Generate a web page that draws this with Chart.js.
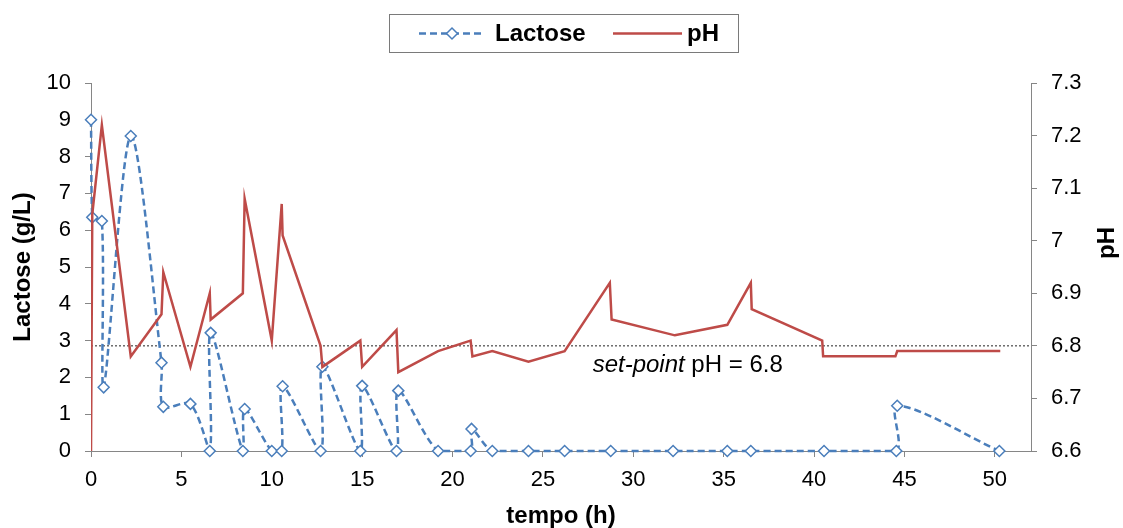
<!DOCTYPE html>
<html><head><meta charset="utf-8">
<script src="https://cdn.jsdelivr.net/npm/chart.js@4.4.1/dist/chart.umd.min.js"></script>
<style>html,body{margin:0;padding:0;background:#fff;}#wrap{width:1123px;height:528px;position:relative;}</style>
</head><body><div id="wrap"><canvas id="c" width="1123" height="528"></canvas></div>
<script>
// ---- data ----
const lactoseTime   = [0, 0.07, 0.6, 0.7, 2.2, 3.9, 4.0, 5.5, 6.57, 6.62, 8.4, 8.5, 10.0, 10.55, 10.6, 12.7, 12.8, 14.9, 15.0, 16.9, 17.0, 19.2, 21.0, 21.05, 22.2, 24.2, 26.2, 28.75, 32.2, 35.2, 36.5, 40.55, 44.55, 44.6, 50.25];
const lactoseValues = [9.0, 6.35, 6.25, 1.73, 8.56, 2.4, 1.2, 1.28, 0, 3.21, 0, 1.14, 0, 0, 1.76, 0, 2.29, 0, 1.77, 0, 1.64, 0, 0, 0.6, 0, 0, 0, 0, 0, 0, 0, 0, 0, 1.23, 0];
const phTime   = [0, 0.07, 0.6, 2.2, 3.9, 4.0, 5.5, 6.57, 6.62, 8.4, 8.5, 10.0, 10.55, 10.6, 12.7, 12.8, 14.9, 15.0, 16.9, 17.0, 19.2, 21.0, 21.1, 22.2, 24.2, 26.2, 28.7, 28.8, 32.3, 35.2, 36.5, 36.55, 40.45, 40.5, 44.5, 44.6, 50.3];
const phValues = [6.6, 7.05, 7.22, 6.78, 6.86, 6.94, 6.76, 6.90, 6.85, 6.90, 7.08, 6.81, 7.07, 7.01, 6.80, 6.76, 6.81, 6.76, 6.83, 6.75, 6.79, 6.81, 6.78, 6.79, 6.77, 6.79, 6.92, 6.85, 6.82, 6.84, 6.92, 6.87, 6.81, 6.78, 6.78, 6.79, 6.79];
const setpointTime   = [0, 52];
const setpointValues = [6.8, 6.8];
const xTicks       = [0, 5, 10, 15, 20, 25, 30, 35, 40, 45, 50];
const lactoseTicks = [0, 1, 2, 3, 4, 5, 6, 7, 8, 9, 10];
const phTicks      = [6.6, 6.7, 6.8, 6.9, 7.0, 7.1, 7.2, 7.3];
const phTickLabels = ['6.6', '6.7', '6.8', '6.9', '7', '7.1', '7.2', '7.3'];
const seriesNames  = ['Lactose', 'pH'];
const setpointLabel = ['set-point', ' pH = 6.8'];
const axisTitles = {x: 'tempo (h)', y: 'Lactose (g/L)', y1: 'pH'};

// ---- styles ----
const BLUE = '#4A7EBB', RED = '#BE4B48', AXIS = '#868686';
const FAMILY = "'Liberation Sans', Arial, sans-serif";
const TICK = 22, TITLE = 24, NOTE = 24;
Chart.defaults.font.family = FAMILY;
Chart.defaults.color = '#000';

const pts = (xs, ys) => xs.map((x, i) => ({x, y: ys[i]}));
const setTicks = arr => scale => { scale.ticks = arr.map(v => ({value: v})); };

const decor = {
  id: 'decor',
  afterDraw(chart) {
    const ctx = chart.ctx;
    const x = chart.scales.x, y1 = chart.scales.y1;
    ctx.save();
    // legend box
    ctx.strokeStyle = '#7a7a7a'; ctx.lineWidth = 1; ctx.setLineDash([]);
    ctx.strokeRect(389.5, 14.5, 349, 38);
    const ly = 33.5;
    // lactose sample
    ctx.strokeStyle = BLUE; ctx.lineWidth = 2.5; ctx.setLineDash([7, 4]);
    ctx.beginPath(); ctx.moveTo(419, ly); ctx.lineTo(485, ly); ctx.stroke();
    ctx.setLineDash([]);
    ctx.fillStyle = '#fff'; ctx.lineWidth = 1.5;
    ctx.beginPath(); ctx.moveTo(446.5, ly); ctx.lineTo(452, ly - 5.5); ctx.lineTo(457.5, ly); ctx.lineTo(452, ly + 5.5); ctx.closePath();
    ctx.fill(); ctx.stroke();
    ctx.fillStyle = '#000'; ctx.font = 'bold ' + TITLE + 'px ' + FAMILY; ctx.textBaseline = 'middle'; ctx.textAlign = 'left';
    ctx.fillText(seriesNames[0], 495, ly + 1);
    // pH sample
    ctx.strokeStyle = RED; ctx.lineWidth = 2.5;
    ctx.beginPath(); ctx.moveTo(613, ly); ctx.lineTo(682, ly); ctx.stroke();
    ctx.fillText(seriesNames[1], 687, ly + 1);
    // set-point text
    const tx = x.getPixelForValue(27.75), ty = y1.getPixelForValue(6.8) + 26;
    ctx.textBaseline = 'alphabetic';
    ctx.font = 'italic ' + NOTE + 'px ' + FAMILY;
    ctx.fillText(setpointLabel[0], tx, ty);
    const w = ctx.measureText(setpointLabel[0]).width;
    ctx.font = NOTE + 'px ' + FAMILY;
    ctx.fillText(setpointLabel[1], tx + w, ty);
    // right axis title
    ctx.translate(1107, 243); ctx.rotate(-Math.PI / 2);
    ctx.font = 'bold ' + TITLE + 'px ' + FAMILY; ctx.textAlign = 'center'; ctx.textBaseline = 'middle';
    ctx.fillText(axisTitles.y1, 0, 0);
    ctx.restore();
  }
};

new Chart(document.getElementById('c'), {
  type: 'scatter',
  data: {
    datasets: [
      { label: seriesNames[1], data: pts(phTime, phValues), yAxisID: 'y1', showLine: true,
        borderColor: RED, borderWidth: 2.5, pointRadius: 0, tension: 0, order: 0 },
      { label: seriesNames[0], data: pts(lactoseTime, lactoseValues), yAxisID: 'y', showLine: true,
        borderColor: BLUE, borderWidth: 2.5, borderDash: [7, 4], tension: 0.3,
        pointStyle: 'rectRot', pointRadius: 5.5, pointBorderWidth: 1.5, pointBackgroundColor: '#fff',
        pointBorderColor: BLUE, clip: false, order: 1 },
      { label: 'set-point', data: pts(setpointTime, setpointValues), yAxisID: 'y1', showLine: true,
        borderColor: '#222', borderWidth: 1, borderDash: [2, 2], pointRadius: 0, order: 2 }
    ]
  },
  options: {
    responsive: false, animation: false, devicePixelRatio: 1,
    layout: { padding: { top: 83, left: 0, right: 0, bottom: 0 } },
    plugins: { legend: { display: false }, tooltip: { enabled: false } },
    scales: {
      x: { type: 'linear', position: 'bottom', min: 0, max: 52,
        afterBuildTicks: setTicks(xTicks),
        afterFit: s => { s.height = 77; },
        ticks: { font: { size: TICK }, padding: 10, maxRotation: 0, color: '#000' },
        grid: { drawOnChartArea: false, tickLength: 6, color: AXIS },
        border: { display: true, color: AXIS, width: 1 },
        title: { display: true, text: axisTitles.x, font: { size: TITLE, weight: 'bold', lineHeight: 1 }, padding: { top: 0, bottom: 0 } } },
      y: { type: 'linear', position: 'left', min: 0, max: 10,
        afterBuildTicks: setTicks(lactoseTicks),
        afterFit: s => { s.width = 91; },
        ticks: { font: { size: TICK }, padding: 14, color: '#000' },
        grid: { drawOnChartArea: false, tickLength: 6, color: AXIS },
        border: { display: true, color: AXIS, width: 1 },
        title: { display: true, text: axisTitles.y, font: { size: TITLE, weight: 'bold' }, padding: { top: 9, bottom: 0 } } },
      y1: { type: 'linear', position: 'right', min: 6.6, max: 7.3,
        afterBuildTicks: setTicks(phTicks),
        afterFit: s => { s.width = 92; },
        ticks: { font: { size: TICK }, padding: 14, color: '#000',
          callback: (v, i) => phTickLabels[i] },
        grid: { drawOnChartArea: false, tickLength: 6, color: AXIS },
        border: { display: true, color: AXIS, width: 1 } }
    }
  },
  plugins: [decor]
});
</script></body></html>
